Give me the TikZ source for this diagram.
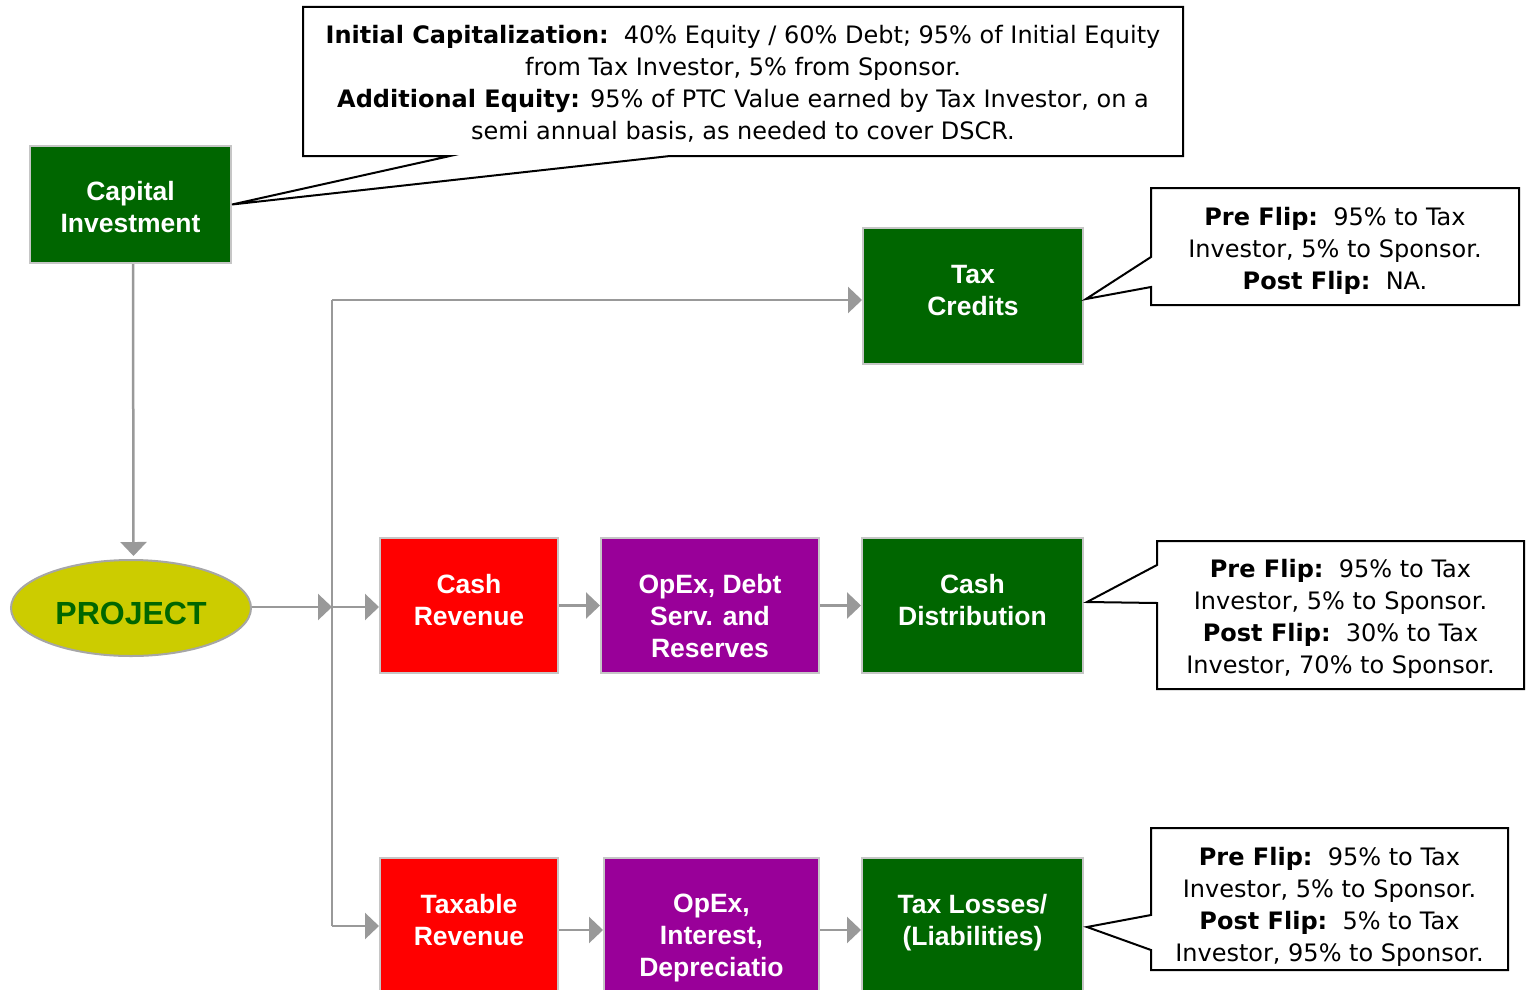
\documentclass[tikz,border=0pt]{standalone}
\usepackage{fontspec}
\setmainfont{DejaVu Sans}
\newfontfamily\boxfont{Liberation Sans}
\usepackage{tikz}
\usetikzlibrary{arrows.meta,shapes.geometric}
\definecolor{darkgreen}{RGB}{0,102,0}
\definecolor{cashred}{RGB}{255,0,0}
\definecolor{opexpurple}{RGB}{153,0,153}
\definecolor{projyellow}{RGB}{204,204,0}
\definecolor{linegray}{RGB}{153,153,153}
\tikzstyle{box}=[rectangle,draw=gray!45,line width=2pt,inner sep=0pt]
\tikzstyle{green box}=[box,fill=darkgreen]
\tikzstyle{red box}=[box,fill=cashred]
\tikzstyle{purple box}=[box,fill=opexpurple]
\tikzstyle{boxtext}=[anchor=north,align=center,inner sep=0pt,text=white,font=\boxfont\bfseries\fontsize{26.5}{32}\selectfont]
\tikzstyle{project}=[ellipse,draw=gray!70,line width=2pt,fill=projyellow,inner sep=0pt,text=darkgreen,font=\boxfont\bfseries\fontsize{32}{38}\selectfont]
\tikzstyle{note}=[align=center,inner sep=0pt,font=\fontsize{24}{32}\selectfont]
\tikzstyle{balloon}=[draw=black,line width=2pt,line join=miter]
\tikzstyle{flow}=[draw=linegray,line width=2.5pt,-{Triangle[length=14pt,width=26pt]}]
\tikzstyle{trunk}=[draw=linegray,line width=2.5pt]

\begin{document}
\begin{tikzpicture}[x=1pt,y=-1pt]
        \path[use as bounding box,clip] (0,0) rectangle (1528,990);

        \node at (130.5,204.5) [green box,minimum width=201pt,minimum height=117pt] (cap) {};
        \node at ([yshift=-36.5pt]cap.north) [boxtext] (cap-t) {Capital\\Investment};
        \node at (131,608) [project,minimum width=240pt,minimum height=96pt,text height=32pt,text depth=0pt] (proj) {PROJECT};

        \node at (973,296) [green box,minimum width=220pt,minimum height=136pt] (tc) {};
        \node at ([yshift=-38pt]tc.north) [boxtext] (tc-t) {Tax\\Credits};

        \node at (469,605.5) [red box,minimum width=178pt,minimum height=135pt] (cashrev) {};
        \node at ([yshift=-37pt]cashrev.north) [boxtext] (cashrev-t) {Cash\\Revenue};
        \node at (710,605.5) [purple box,minimum width=218pt,minimum height=135pt] (opexdebt) {};
        \node at ([yshift=-37pt]opexdebt.north) [boxtext] (opexdebt-t) {OpEx, Debt\\Serv. and\\Reserves};
        \node at (972.5,605.5) [green box,minimum width=221pt,minimum height=135pt] (cashdist) {};
        \node at ([yshift=-37pt]cashdist.north) [boxtext] (cashdist-t) {Cash\\Distribution};

        \node at (469,930) [red box,minimum width=178pt,minimum height=144pt] (taxrev) {};
        \node at ([yshift=-37pt]taxrev.north) [boxtext] (taxrev-t) {Taxable\\Revenue};
        \node at (711.5,930) [purple box,minimum width=215pt,minimum height=144pt] (opexint) {};
        \node at ([yshift=-37pt]opexint.north) [boxtext] (opexint-t) {OpEx,\\Interest,\\Depreciatio};
        \node at (972.5,930) [green box,minimum width=221pt,minimum height=144pt] (taxloss) {};
        \node at ([yshift=-37pt]taxloss.north) [boxtext] (taxloss-t) {Tax Losses/\\(Liabilities)};

        \coordinate (top) at (332,300);
        \coordinate (split) at (332,607);
        \coordinate (bot) at (332,926);

        \draw [flow] ([xshift=2.5pt]cap.south) -- ([xshift=2.5pt,yshift=3pt]proj.north);
        \draw [flow] (proj.east |- split) -- (split);
        \draw [trunk] (top) -- (bot);
        \draw [flow] (top) -- (tc.west |- top);
        \draw [flow] (split) -- (cashrev.west |- split);
        \draw [flow] (bot) -- (taxrev.west |- bot);
        \draw [flow] (cashrev) -- (opexdebt);
        \draw [flow] (opexdebt) -- (cashdist);
        \draw [flow] (taxrev) -- (opexint);
        \draw [flow] (opexint) -- (taxloss);

        \node at (743,83.5) [note] (icn)
          {\textbf{Initial Capitalization:}\ \ 40\% Equity / 60\% Debt; 95\% of Initial Equity\\
           from Tax Investor, 5\% from Sponsor.\\
           \textbf{Additional Equity:} 95\% of PTC Value earned by Tax Investor, on a\\
           semi annual basis, as needed to cover DSCR.};
        \draw [balloon] (303,7) -- (1183,7) -- (1183,156) -- (670,156)
          -- (cap.east) -- (450,156) -- (303,156) -- cycle;

        \node at (1335,250.5) [note] (tcn)
          {\textbf{Pre Flip:}\ \ 95\% to Tax\\ Investor, 5\% to Sponsor.\\ \textbf{Post Flip:}\ \ NA.};
        \draw [balloon] (1151,188) -- (1519,188) -- (1519,305) -- (1151,305)
          -- (1151,287) -- (1086,299) -- (1151,257) -- cycle;

        \node at (1340.5,619) [note] (cdn)
          {\textbf{Pre Flip:}\ \ 95\% to Tax\\ Investor, 5\% to Sponsor.\\ \textbf{Post Flip:}\ \ 30\% to Tax\\ Investor, 70\% to Sponsor.};
        \draw [balloon] (1157,541) -- (1524,541) -- (1524,689) -- (1157,689)
          -- (1157,603) -- (1087,602) -- (1157,565) -- cycle;

        \node at (1329.5,907) [note] (tln)
          {\textbf{Pre Flip:}\ \ 95\% to Tax\\ Investor, 5\% to Sponsor.\\ \textbf{Post Flip:}\ \ 5\% to Tax\\ Investor, 95\% to Sponsor.};
        \draw [balloon] (1151,828) -- (1508,828) -- (1508,970) -- (1151,970)
          -- (1151,950) -- (1087,927) -- (1151,915) -- cycle;
      \end{tikzpicture}
\end{document}
